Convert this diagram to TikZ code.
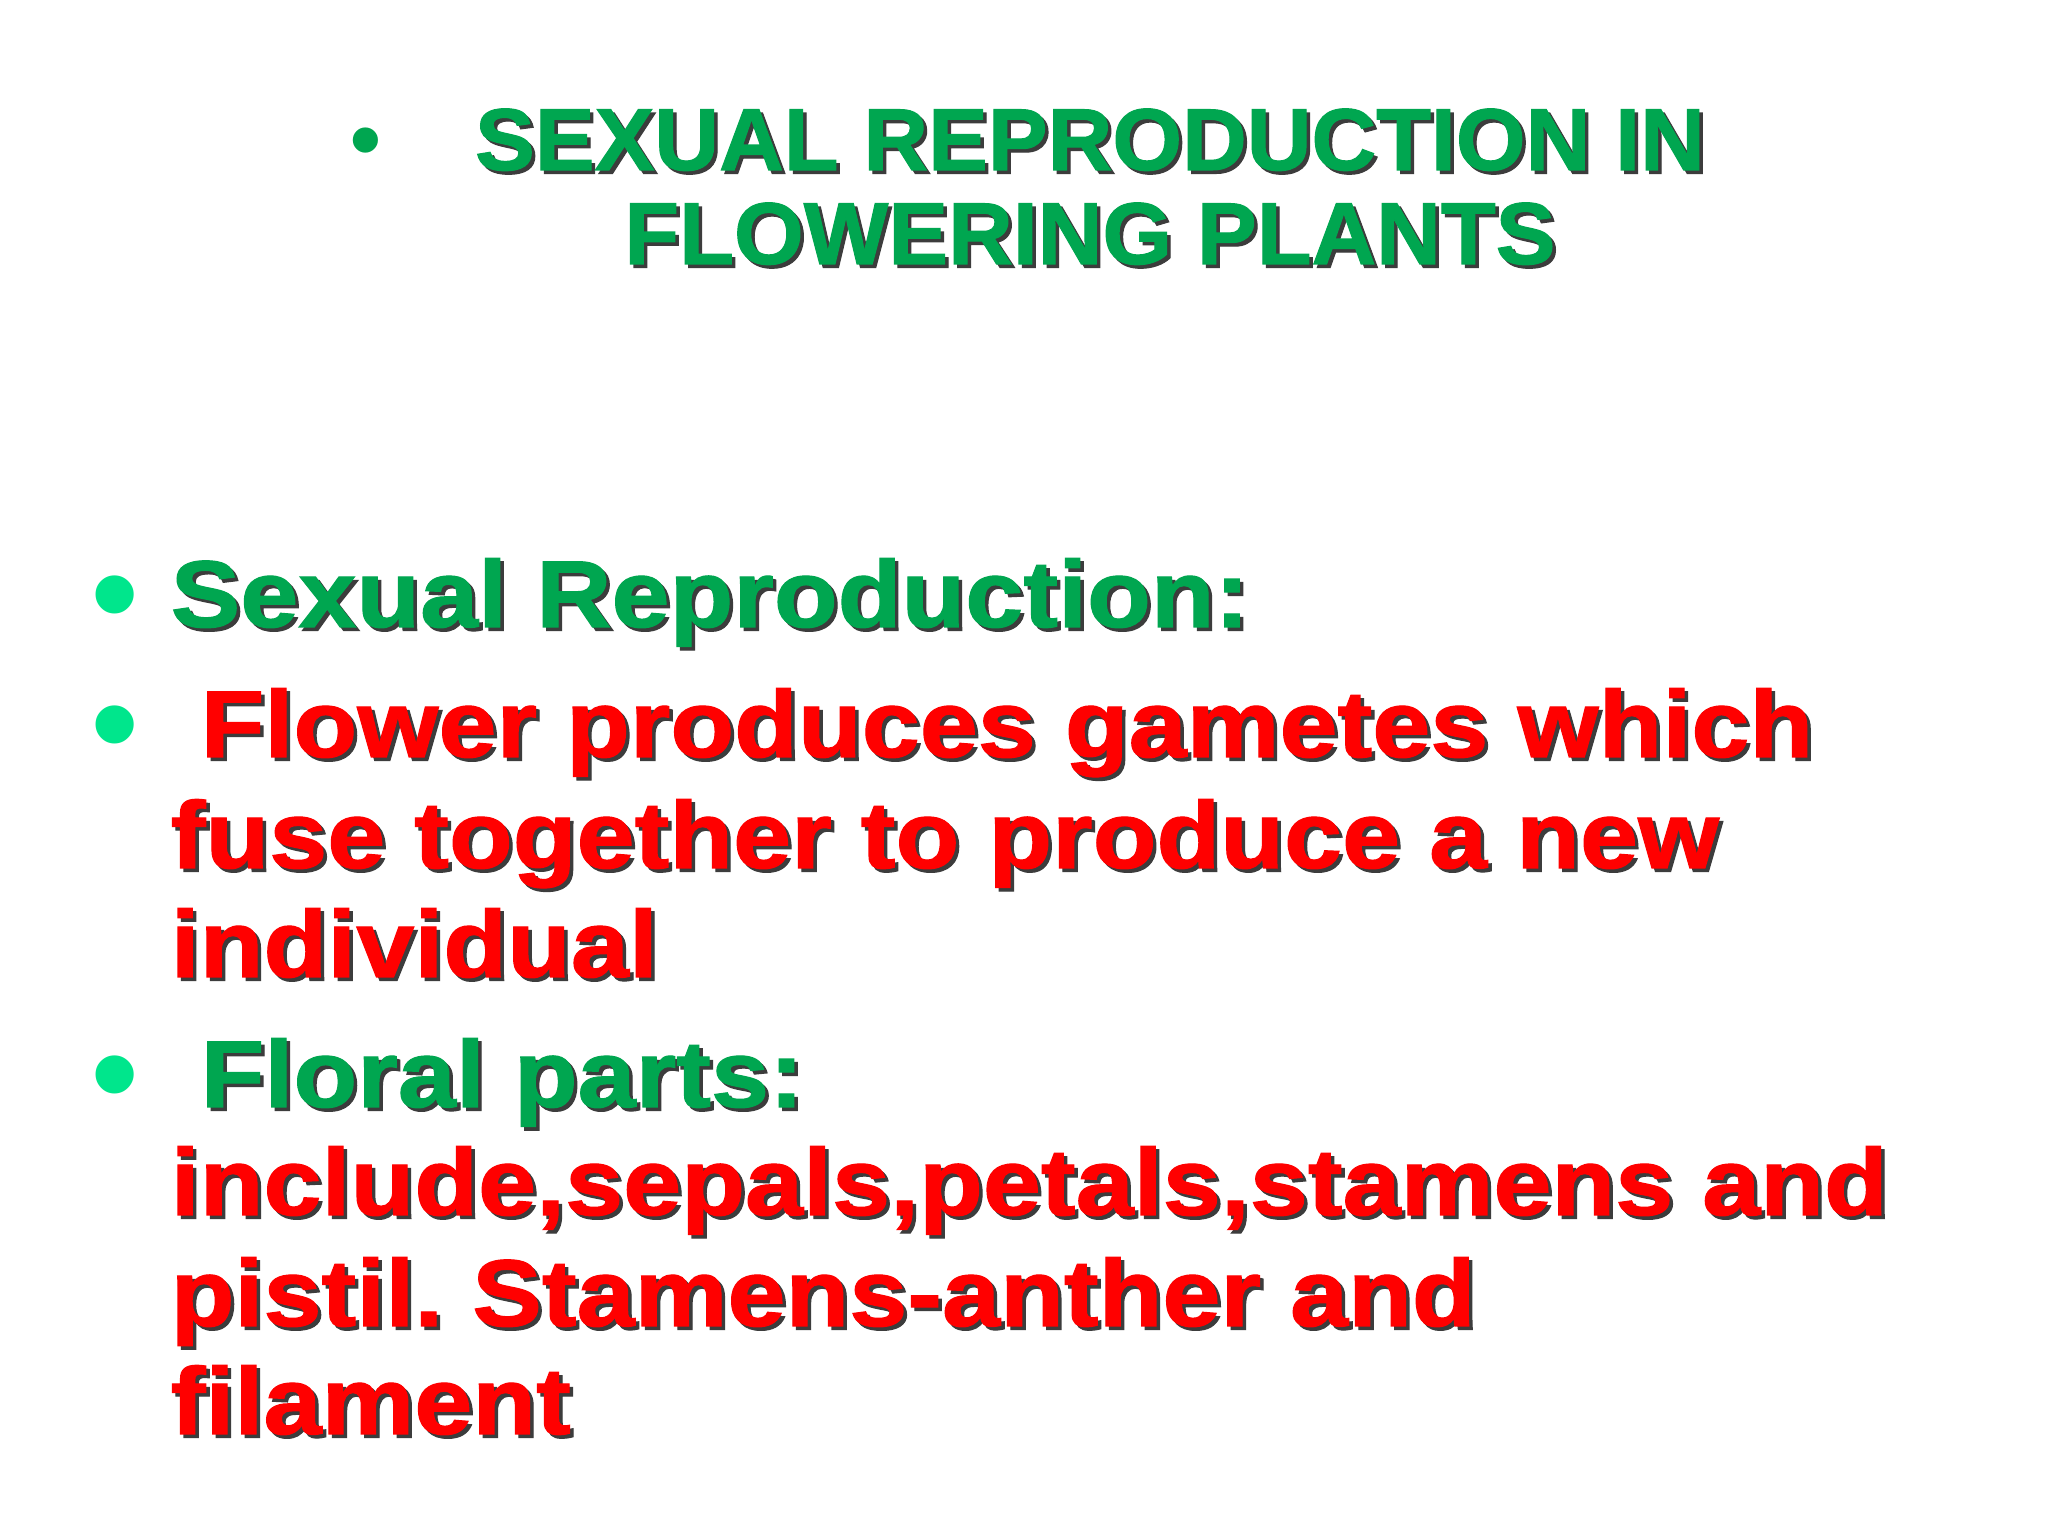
\documentclass[tikz,border=0pt]{standalone}
\usepackage{fontspec}
\setmainfont{Liberation Sans}
\newfontfamily\blk{Liberation Sans Bold}[FakeStretch=1.10,FakeBold=1.2]
\newfontfamily\blkt{Liberation Sans Bold}[FakeStretch=1.02,FakeBold=1.2]
\definecolor{tgreen}{RGB}{0,166,80}
\definecolor{tred}{RGB}{255,0,0}
\definecolor{bgreen}{RGB}{0,230,140}
\definecolor{shad}{RGB}{60,60,60}
\tikzset{
 txt/.style={anchor=base west,inner sep=0pt,font=\frenchspacing\blk\fontsize{27}{27}\selectfont},
 ttl/.style={anchor=base,inner sep=0pt,font=\blkt\fontsize{25}{25}\selectfont},
}
\newcommand{\sh}[5]{% style, pos, color, text, name
 \node[#1,text=shad] at ($(#2)+(0.035,-0.035)$) {#4};
 \node[#1,text=#3] (#5) at (#2) {#4};}
\usetikzlibrary{calc}
\begin{document}
\begin{tikzpicture}
\useasboundingbox (0,0) rectangle (20.48,15.36);
\fill[white] (0,0) rectangle (20.48,15.36);
\node[anchor=base,font=\bfseries\fontsize{25}{25}\selectfont,text=tgreen] (tb) at (3.66,13.66) {•};
\sh{ttl}{10.9,13.66}{tgreen}{SEXUAL REPRODUCTION IN}{t1}
\sh{ttl}{10.9,12.72}{tgreen}{FLOWERING PLANTS}{t2}
\foreach \y/\n in {15.36-6.27/b1,15.36-7.57/b2,15.36-11.07/b3}
 \node[anchor=base,font=\fontsize{40}{40}\selectfont,text=bgreen,inner sep=0pt] (\n) at (1.15,\y-0.15) {•};
\sh{txt}{1.70,9.09}{tgreen}{Sexual Reproduction:}{l1}
\sh{txt}{2.00,7.79}{tred}{Flower produces gametes which}{l2}
\sh{txt}{1.70,6.68}{tred}{fuse together to produce a new}{l3}
\sh{txt}{1.70,5.59}{tred}{individual}{l4}
\sh{txt}{2.00,4.29}{tgreen}{Floral parts:}{l5}
\sh{txt}{1.70,3.21}{tred}{include,sepals,petals,stamens and}{l6}
\sh{txt}{1.70,2.10}{tred}{pistil. Stamens-anther and}{l7}
\sh{txt}{1.70,1.02}{tred}{filament}{l8}
\end{tikzpicture}
\end{document}
